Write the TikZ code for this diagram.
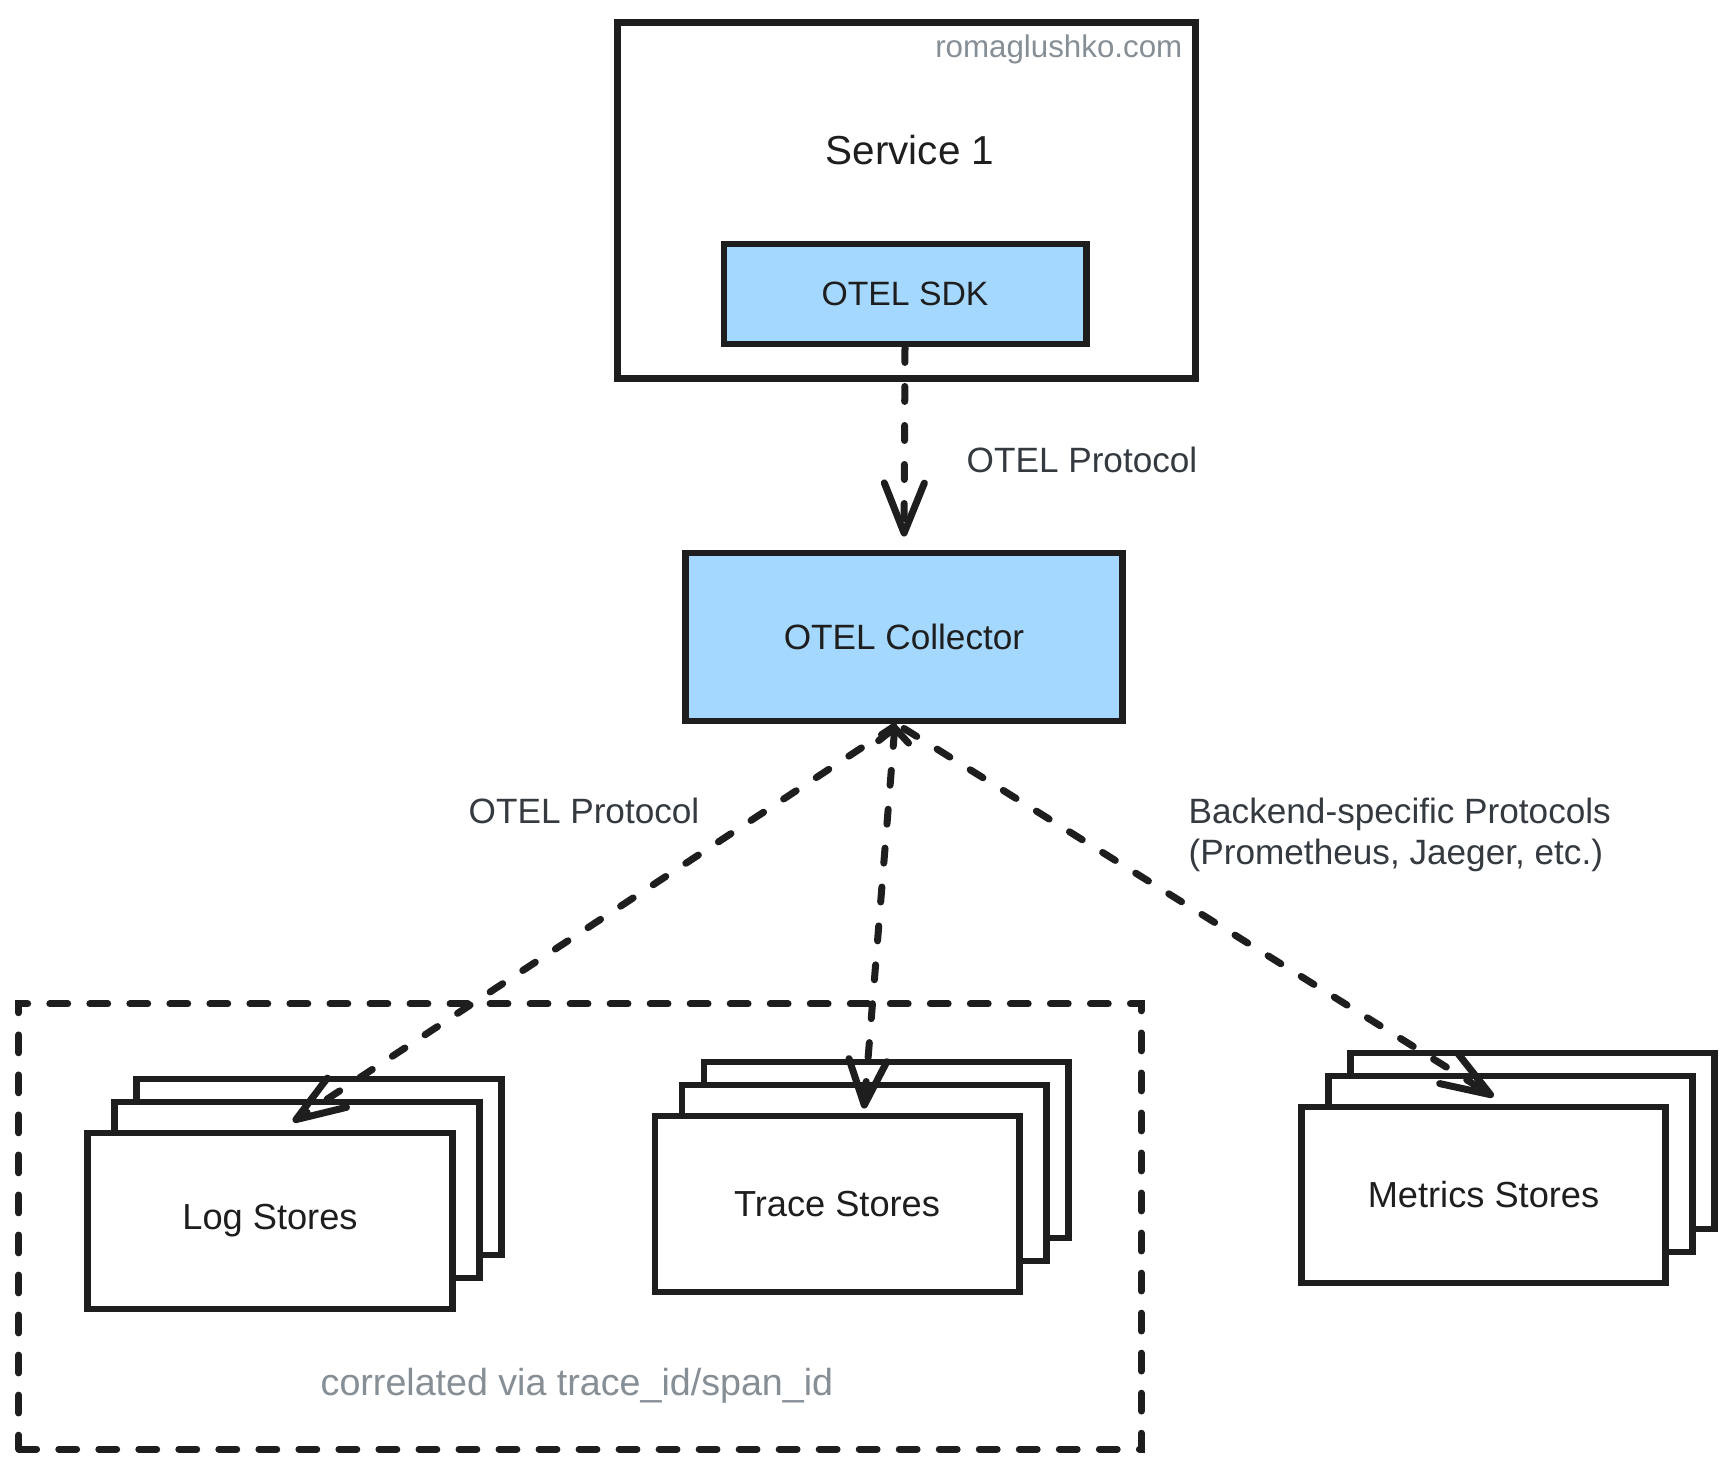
\documentclass[tikz,border=0pt]{standalone}
\usepackage{fontspec}
\setmainfont{Liberation Sans}
\usetikzlibrary{arrows.meta,calc}
\definecolor{ink}{HTML}{1E1E1E}
\definecolor{sky}{HTML}{A5D8FF}
\definecolor{muted}{HTML}{868E96}
\definecolor{lbl}{HTML}{343A40}
\begin{document}
\begin{tikzpicture}[x=0.01cm,y=-0.01cm,
  box/.style={draw=ink, line width=0.068cm, rectangle, inner sep=0pt, text=ink,
    font=\fontsize{10}{12}\selectfont},
  storebox/.style={box, fill=white, minimum width=3.64cm, minimum height=1.76cm,
    font=\fontsize{10.3}{12}\selectfont},
  groupline/.style={draw=ink, line width=0.068cm, line cap=round,
    dash pattern=on 0.18cm off 0.22cm, rectangle, inner sep=0pt},
  arr/.style={draw=ink, line width=0.07cm, line cap=round,
    dash pattern=on 0.15cm off 0.24cm},
  txt/.style={inner sep=0pt, text=ink},
  lbltxt/.style={inner sep=0pt, text=lbl, font=\fontsize{10}{11.4}\selectfont}
]
\useasboundingbox (0,0) rectangle (1733,1467);
\fill[white] (0,0) rectangle (1733,1467);

% service box
\node[box, fill=white, minimum width=5.77cm, minimum height=3.55cm] (svc) at (906.5,200.5) {};
\node[txt, font=\fontsize{11.5}{14}\selectfont] (svct) at (910,150) {Service 1};
\node[txt, text=muted, font=\fontsize{8.9}{11}\selectfont, anchor=base east] (wm) at (1183,58) {romaglushko.com};
\node[box, fill=sky, minimum width=3.62cm, minimum height=1.00cm, font=\fontsize{9.6}{12}\selectfont] (sdk) at (905,294) {OTEL SDK};

% collector
\node[box, fill=sky, minimum width=4.36cm, minimum height=1.68cm] (coll) at (904,637) {OTEL Collector};

% group
\node[groupline, minimum width=11.22cm, minimum height=4.45cm] (grp) at (580,1226.5) {};
\node[txt, text=muted, font=\fontsize{10.7}{13}\selectfont, anchor=base west] (corr) at (320,1395) {correlated via trace\_id/span\_id};

% log stores
\node[storebox] (logc) at (319,1167) {};
\node[storebox] (logb) at (297,1190) {};
\node[storebox] (log) at (270,1221) {Log Stores};

% trace stores
\node[storebox] (trc) at (886,1150) {};
\node[storebox] (trb) at (864,1173) {};
\node[storebox] (tr) at (837,1204) {Trace Stores};

% metrics stores
\node[storebox] (metc) at (1532.5,1141) {};
\node[storebox] (metb) at (1510.5,1164) {};
\node[storebox] (met) at (1483.5,1195) {Metrics Stores};

% arrows
\draw[arr, -{Straight Barb[length=0.5cm,width=0.4cm,round]}, shorten >=0.13cm]
  (sdk.south) -- (coll.north);
\draw[arr, {Straight Barb[length=0.14cm,width=0.3cm,round]}-{Straight Barb[length=0.45cm,width=0.38cm,round]}]
  ($(coll.south)+(-9,0)$) -- ($(tr.north)+(27,-4)$);
\draw[arr, -{Straight Barb[length=0.49cm,width=0.35cm,round]}]
  ($(coll.south)+(-10,2)$) -- ($(log.north)+(23,-8)$);
\draw[arr, -{Straight Barb[length=0.49cm,width=0.35cm,round]}]
  ($(coll.south)+(0,4)$) -- ($(met.north)+(10,-7)$);

% labels
\node[lbltxt, anchor=base west] (p1) at (966,473) {OTEL Protocol};
\node[lbltxt, anchor=base west] (p2) at (468,823) {OTEL Protocol};
\node[lbltxt, anchor=base west, align=left] (p3) at (1188,864) {Backend-specific Protocols\\(Prometheus, Jaeger, etc.)};
\end{tikzpicture}
\end{document}
